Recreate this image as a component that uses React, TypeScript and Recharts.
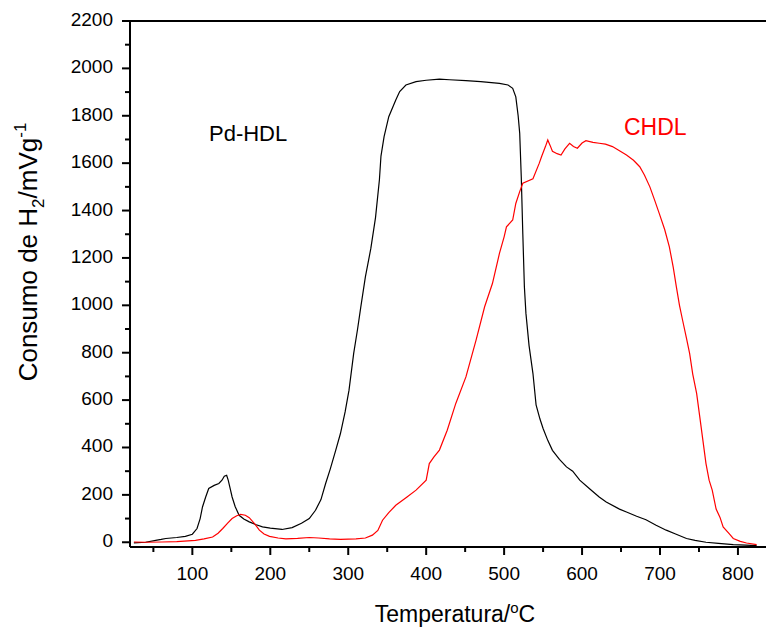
import React from 'react';
import { LineChart, Line, XAxis, YAxis, ReferenceLine } from 'recharts';

// Pd-HDL (black) TPR trace
const pdTemp = [
  25, 40, 53, 60, 66, 80, 91, 100, 106, 110, 113, 117, 121, 128, 134, 138, 141, 144, 146, 149,
  151, 155, 160, 166, 173, 182, 190, 200, 215, 228, 240, 250, 258, 265, 271, 277, 284, 290, 296, 301,
  307, 312, 316, 322, 329, 335, 340, 342, 346, 352, 361, 366, 374, 387, 400, 417, 430, 451, 470, 494,
  505, 511, 515, 518, 520, 522, 524, 526, 528, 532, 537, 541, 546, 550, 556, 562, 571, 580, 588, 597,
  610, 622, 631, 648, 657, 670, 682, 695, 708, 720, 734, 745, 759, 775, 794, 810, 824,
];
const pdValue = [
  -3, 0, 8, 12, 16, 20, 25, 34, 58, 100, 149, 190, 227, 240, 248, 262, 279, 283, 262, 220,
  191, 150, 114, 98, 86, 74, 65, 60, 54, 62, 80, 100, 135, 180, 248, 310, 389, 459, 550, 642,
  797, 900, 990, 1120, 1240, 1370, 1530, 1630, 1712, 1796, 1867, 1902, 1930, 1944, 1950, 1955, 1952, 1948, 1944, 1937,
  1930, 1916, 1880, 1800, 1726, 1543, 1300, 1078, 966, 830, 712, 580, 520, 480, 430, 388, 350, 318, 300, 262,
  225, 191, 170, 140, 128, 110, 95, 72, 51, 35, 16, 8, 0, -5, -10, -12, -14,
];

// CHDL (red) TPR trace
const chTemp = [
  25, 40, 61, 80, 104, 115, 126, 133, 139, 145, 151, 157, 162, 168, 173, 180, 186, 192, 199, 210,
  220, 235, 250, 262, 276, 290, 310, 322, 331, 338, 344, 352, 361, 375, 387, 400, 404, 410, 417, 427,
  438, 451, 464, 475, 485, 494, 500, 503, 511, 515, 520, 524, 537, 545, 548, 553, 556, 559, 562, 568,
  573, 578, 584, 589, 594, 600, 605, 614, 622, 630, 639, 648, 657, 666, 674, 680, 687, 693, 699, 706,
  712, 717, 721, 725, 729, 734, 738, 742, 747, 751, 755, 759, 763, 767, 772, 777, 781, 789, 794, 803,
  811, 824,
];
const chValue = [
  1, 0, 1, 3, 8, 14, 22, 38, 58, 80, 100, 112, 118, 114, 104, 78, 51, 35, 25, 18,
  14, 16, 20, 18, 14, 12, 14, 18, 30, 50, 93, 125, 156, 190, 220, 262, 332, 360, 389, 473,
  586, 698, 853, 994, 1092, 1219, 1289, 1331, 1360, 1430, 1480, 1515, 1534, 1599, 1627, 1670, 1698, 1675, 1650, 1640,
  1634, 1660, 1684, 1670, 1663, 1685, 1695, 1688, 1684, 1680, 1670, 1652, 1634, 1612, 1585, 1550, 1500, 1445, 1388, 1320,
  1247, 1160, 1078, 1000, 937, 860, 797, 710, 628, 530, 431, 332, 262, 220, 140, 105, 65, 35, 16, 4,
  -3, -10,
];

const xTicks = [50, 100, 150, 200, 250, 300, 350, 400, 450, 500, 550, 600, 650, 700, 750, 800];
const yTicks = [0, 100, 200, 300, 400, 500, 600, 700, 800, 900, 1000, 1100, 1200, 1300, 1400, 1500, 1600, 1700, 1800, 1900, 2000, 2100, 2200];

const pdData = pdTemp.map((t, i) => ({ t, v: pdValue[i] }));
const chData = chTemp.map((t, i) => ({ t, v: chValue[i] }));

const FONT = '"Liberation Sans", Arial, sans-serif';

function XTick({ x, y, payload }: any) {
  const major = payload.value % 100 === 0;
  return (
    <g>
      <line x1={x} x2={x} y1={y} y2={y + (major ? 8 : 5)} stroke="#000" strokeWidth={2} />
      {major && (
        <text x={x} y={y + 33} textAnchor="middle" fontSize={19} fontFamily={FONT} fill="#000">
          {payload.value}
        </text>
      )}
    </g>
  );
}

function YTick({ x, y, payload }: any) {
  const major = payload.value % 200 === 0;
  return (
    <g>
      <line x1={x} x2={x - (major ? 8 : 5)} y1={y} y2={y} stroke="#000" strokeWidth={2} />
      {major && (
        <text x={x - 17} y={y + 5} textAnchor="end" fontSize={19} fontFamily={FONT} fill="#000">
          {payload.value}
        </text>
      )}
    </g>
  );
}

export default function App() {
  return (
    <div style={{ position: 'absolute', left: 0, top: 0, width: 766, height: 627, background: '#fff' }}>
      <LineChart width={766} height={627} margin={{ top: 21, right: 0, bottom: 0, left: 0 }}>
        <XAxis
          type="number"
          dataKey="t"
          domain={[20, 836]}
          ticks={xTicks}
          allowDataOverflow
          height={80}
          tickSize={0}
          tickMargin={0}
          tickLine={false}
          axisLine={{ stroke: '#000', strokeWidth: 2 }}
          tick={<XTick />}
          interval={0}
        />
        <YAxis
          type="number"
          dataKey="v"
          domain={[-20, 2200]}
          ticks={yTicks}
          allowDataOverflow
          width={130}
          tickSize={0}
          tickMargin={0}
          tickLine={false}
          axisLine={{ stroke: '#000', strokeWidth: 2 }}
          tick={<YTick />}
          interval={0}
        />
        <ReferenceLine y={2200} stroke="#000" strokeWidth={2} />
        <Line data={pdData} dataKey="v" type="linear" stroke="#000" strokeWidth={1.2} dot={false} isAnimationActive={false} />
        <Line data={chData} dataKey="v" type="linear" stroke="#ff0000" strokeWidth={1.2} dot={false} isAnimationActive={false} />
      </LineChart>
      <svg width={766} height={627} style={{ position: 'absolute', left: 0, top: 0, pointerEvents: 'none' }}>
        <text x={209} y={141} fontSize={22} fontFamily={FONT} fill="#000">Pd-HDL</text>
        <text x={624} y={135} fontSize={23} fontFamily={FONT} fill="#ff0000">CHDL</text>
        <text x={455} y={622} textAnchor="middle" fontSize={23} fontFamily={FONT} fill="#000">
          Temperatura/<tspan dy={-9} fontSize={15}>o</tspan><tspan dy={9}>C</tspan>
        </text>
        <text transform="translate(37,252) rotate(-90)" textAnchor="middle" fontSize={26} fontFamily={FONT} fill="#000">
          Consumo de H<tspan dy={7} fontSize={17}>2</tspan><tspan dy={-7}>/mVg</tspan><tspan dy={-11} fontSize={17}>-1</tspan>
        </text>
      </svg>
    </div>
  );
}
